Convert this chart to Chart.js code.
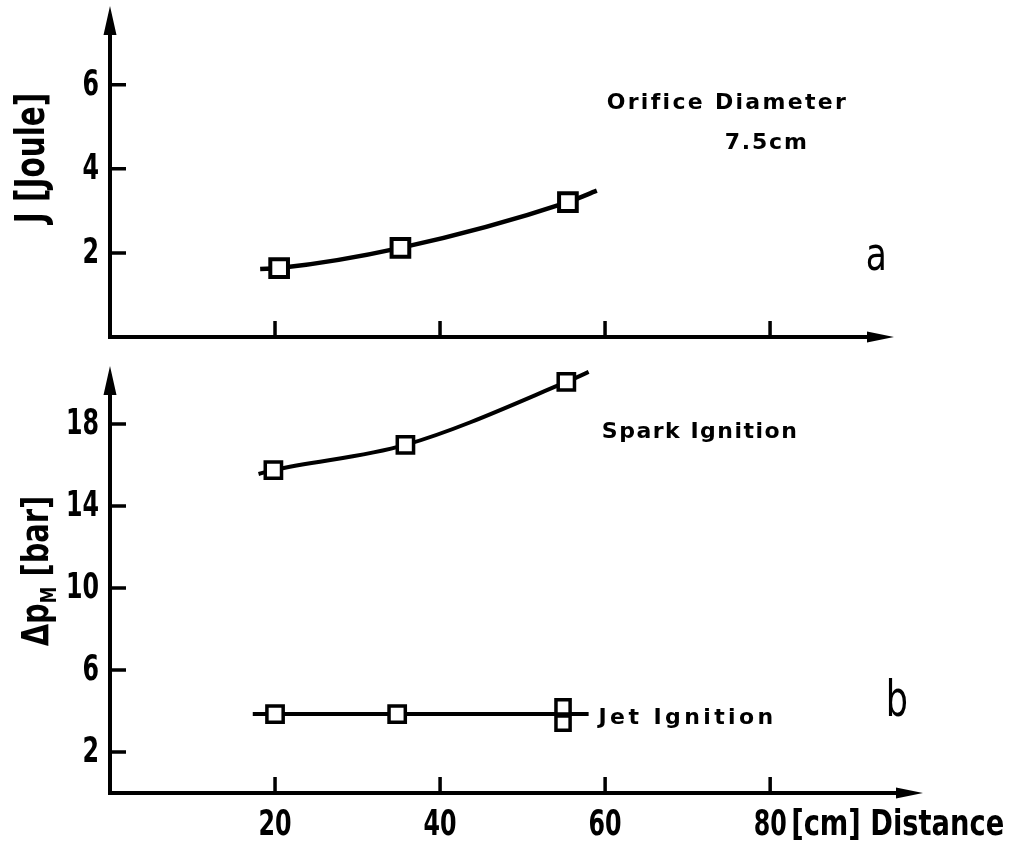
<!DOCTYPE html>
<html>
<head>
<meta charset="utf-8">
<script src="https://cdn.jsdelivr.net/npm/chart.js@4.4.1/dist/chart.umd.min.js"></script>
<style>
  body { margin: 0; background: #fff; }
  .box { position: absolute; left: 0; width: 1017px; }
  #top { top: 0; height: 350px; }
  #bottom { top: 350px; height: 498px; }
</style>
</head>
<body>
<div class="box" id="top"><canvas id="energyChart"></canvas></div>
<div class="box" id="bottom"><canvas id="pressureChart"></canvas></div>
<script>
// (a) ignition energy J [Joule] vs distance [cm]
const energyX = [20.5, 35.2, 55.5];
const energyY = [1.64, 2.12, 3.21];
const energyCurveX = [18.2, 20.5, 35.2, 55.5, 59];
const energyCurveY = [1.62, 1.64, 2.12, 3.21, 3.48];

// (b) pressure rise dp_M [bar] vs distance [cm]
const sparkX = [19.8, 35.8, 55.3];
const sparkY = [15.75, 16.98, 20.05];
const sparkCurveX = [18, 19.8, 35.8, 55.3, 58];
const sparkCurveY = [15.56, 15.75, 16.98, 20.05, 20.54];

const jetX = [20, 34.8, 54.9, 54.9];
const jetY = [3.85, 3.85, 4.2, 3.41];
const jetCurveX = [17.3, 58];
const jetCurveY = [3.85, 3.85];

const distanceTicks = [20, 40, 60, 80];
const energyTicks = [2, 4, 6];
const pressureTicks = [2, 6, 10, 14, 18];

const boldFont = '"DejaVu Sans", sans-serif';
const SQUEEZE = 0.66;

function pts(xs, ys) {
    return xs.map((x, i) => ({ x: x, y: ys[i] }));
}

function markerSet(xs, ys, r, bw) {
    return {
        data: pts(xs, ys), showLine: false, pointStyle: 'rect',
        pointRadius: r, pointBorderWidth: bw, pointBorderColor: '#000',
        pointBackgroundColor: '#fff', order: 0, clip: false
    };
}

function curveSet(xs, ys, lw) {
    return {
        data: pts(xs, ys), borderColor: '#000', borderWidth: lw,
        cubicInterpolationMode: 'monotone', pointRadius: 0, fill: false, order: 1, clip: false
    };
}

// narrow lettering: squeeze the text horizontally (fixed factor, or to a given width)
function narrowText(ctx, text, x, y, align, font, sq, width) {
    ctx.save();
    ctx.font = font;
    ctx.textAlign = align;
    ctx.textBaseline = 'middle';
    const f = width ? width / ctx.measureText(text).width : sq;
    ctx.translate(x, y);
    ctx.scale(f, 1);
    ctx.fillText(text, 0, 0);
    ctx.restore();
}

// axes with inward ticks and arrow heads, tick labels, axis title, notes
const decor = {
    id: 'decor',
    afterDraw(chart, args, opts) {
        const { ctx, chartArea: a, scales: { x, y } } = chart;
        ctx.save();
        ctx.strokeStyle = '#000';
        ctx.fillStyle = '#000';
        ctx.lineWidth = 4;
        ctx.beginPath();
        ctx.moveTo(a.left, a.top + 10);
        ctx.lineTo(a.left, a.bottom);
        ctx.lineTo(a.right - 10, a.bottom);
        ctx.stroke();

        ctx.lineWidth = 3.5;
        ctx.beginPath();
        opts.xTicks.forEach(v => {
            const px = x.getPixelForValue(v);
            ctx.moveTo(px, a.bottom);
            ctx.lineTo(px, a.bottom - 16);
        });
        opts.yTicks.forEach(v => {
            const py = y.getPixelForValue(v);
            ctx.moveTo(a.left, py);
            ctx.lineTo(a.left + 16, py);
        });
        ctx.stroke();

        ctx.beginPath();
        ctx.moveTo(a.left, a.top - 1);
        ctx.lineTo(a.left - 6.5, a.top + 28);
        ctx.lineTo(a.left + 6.5, a.top + 28);
        ctx.closePath();
        ctx.moveTo(a.right + 1, a.bottom);
        ctx.lineTo(a.right - 26, a.bottom - 5.5);
        ctx.lineTo(a.right - 26, a.bottom + 5.5);
        ctx.closePath();
        ctx.fill();

        const tickFont = 'bold 36px ' + boldFont;
        opts.yTicks.forEach(v => {
            narrowText(ctx, String(v), a.left - 11, y.getPixelForValue(v) + 1, 'right', tickFont, SQUEEZE);
        });
        if (opts.xLabels) {
            opts.xTicks.forEach(v => {
                narrowText(ctx, String(v), x.getPixelForValue(v), a.bottom + 33, 'center', tickFont, SQUEEZE);
            });
            narrowText(ctx, opts.xTitle, x.getPixelForValue(80) + 21, a.bottom + 33, 'left', tickFont, 0, 213);
        }

        // rotated y title, text runs upward
        ctx.save();
        ctx.translate(opts.titleX, opts.titleY);
        ctx.rotate(-Math.PI / 2);
        ctx.scale(opts.titleSqueeze, 1);
        ctx.textBaseline = 'middle';
        const big = 'bold ' + opts.titleSize + 'px ' + boldFont;
        const small = 'bold 22px ' + boldFont;
        let w = 0;
        opts.title.forEach(p => { ctx.font = p.sub ? small : big; w += ctx.measureText(p.t).width; });
        let cx = -w / 2;
        opts.title.forEach(p => {
            ctx.font = p.sub ? small : big;
            ctx.fillText(p.t, cx, p.sub ? 12 : 0);
            cx += ctx.measureText(p.t).width;
        });
        ctx.restore();

        ctx.textBaseline = 'middle';
        opts.notes.forEach(n => {
            if (n.squeeze) {
                narrowText(ctx, n.text, x.getPixelForValue(n.x), y.getPixelForValue(n.y), 'left', n.font, n.squeeze);
                return;
            }
            ctx.font = n.font;
            ctx.letterSpacing = n.spacing || '0px';
            ctx.fillText(n.text, x.getPixelForValue(n.x), y.getPixelForValue(n.y));
        });
        ctx.restore();
    }
};

function makeScales(xMax, yMax) {
    return {
        x: { type: 'linear', display: false, min: 0, max: xMax },
        y: { type: 'linear', display: false, min: 0, max: yMax }
    };
}

const noteFont = 'bold 22px ' + boldFont;

new Chart(document.getElementById('energyChart'), {
    type: 'line',
    data: {
        datasets: [
            markerSet(energyX, energyY, 12.5, 4),
            curveSet(energyCurveX, energyCurveY, 4.5)
        ]
    },
    options: {
        responsive: true, maintainAspectRatio: false, animation: false, events: [],
        layout: { autoPadding: false, padding: { top: 7, right: 124, left: 110, bottom: 13 } },
        scales: makeScales(94.9, 7.85),
        plugins: {
            legend: { display: false }, tooltip: { enabled: false },
            decor: {
                xTicks: distanceTicks, yTicks: energyTicks, xLabels: false,
                titleX: 33, titleY: 158, titleSize: 41, titleSqueeze: 0.72,
                title: [{ t: 'J [Joule]' }],
                notes: [
                    { text: 'Orifice Diameter', x: 60.2, y: 5.57, font: noteFont, spacing: '2.3px' },
                    { text: '7.5cm', x: 74.5, y: 4.62, font: noteFont, spacing: '1.8px' },
                    { text: 'a', x: 91.6, y: 1.88, font: '46px ' + boldFont, squeeze: 0.75 }
                ]
            }
        }
    },
    plugins: [decor]
});

new Chart(document.getElementById('pressureChart'), {
    type: 'line',
    data: {
        datasets: [
            markerSet(sparkX, sparkY, 11.5, 3.5),
            markerSet(jetX.slice(0, 2), jetY.slice(0, 2), 11.5, 3.5),
            markerSet(jetX.slice(2), jetY.slice(2), 10, 3.5),
            curveSet(sparkCurveX, sparkCurveY, 4),
            curveSet(jetCurveX, jetCurveY, 4)
        ]
    },
    options: {
        responsive: true, maintainAspectRatio: false, animation: false, events: [],
        layout: { autoPadding: false, padding: { top: 17, right: 95, left: 110, bottom: 55 } },
        scales: makeScales(98.4, 20.78),
        plugins: {
            legend: { display: false }, tooltip: { enabled: false },
            decor: {
                xTicks: distanceTicks, yTicks: pressureTicks, xLabels: true,
                xTitle: '[cm] Distance',
                titleX: 38, titleY: 221, titleSize: 38, titleSqueeze: 0.76,
                title: [{ t: '\u0394p' }, { t: 'M', sub: true }, { t: ' [bar]' }],
                notes: [
                    { text: 'Spark Ignition', x: 59.6, y: 17.6, font: noteFont, spacing: '1.5px' },
                    { text: 'Jet Ignition', x: 59.2, y: 3.66, font: noteFont, spacing: '3.4px' },
                    { text: 'b', x: 94.0, y: 4.4, font: '50px ' + boldFont, squeeze: 0.7 }
                ]
            }
        }
    },
    plugins: [decor]
});
</script>
</body>
</html>
